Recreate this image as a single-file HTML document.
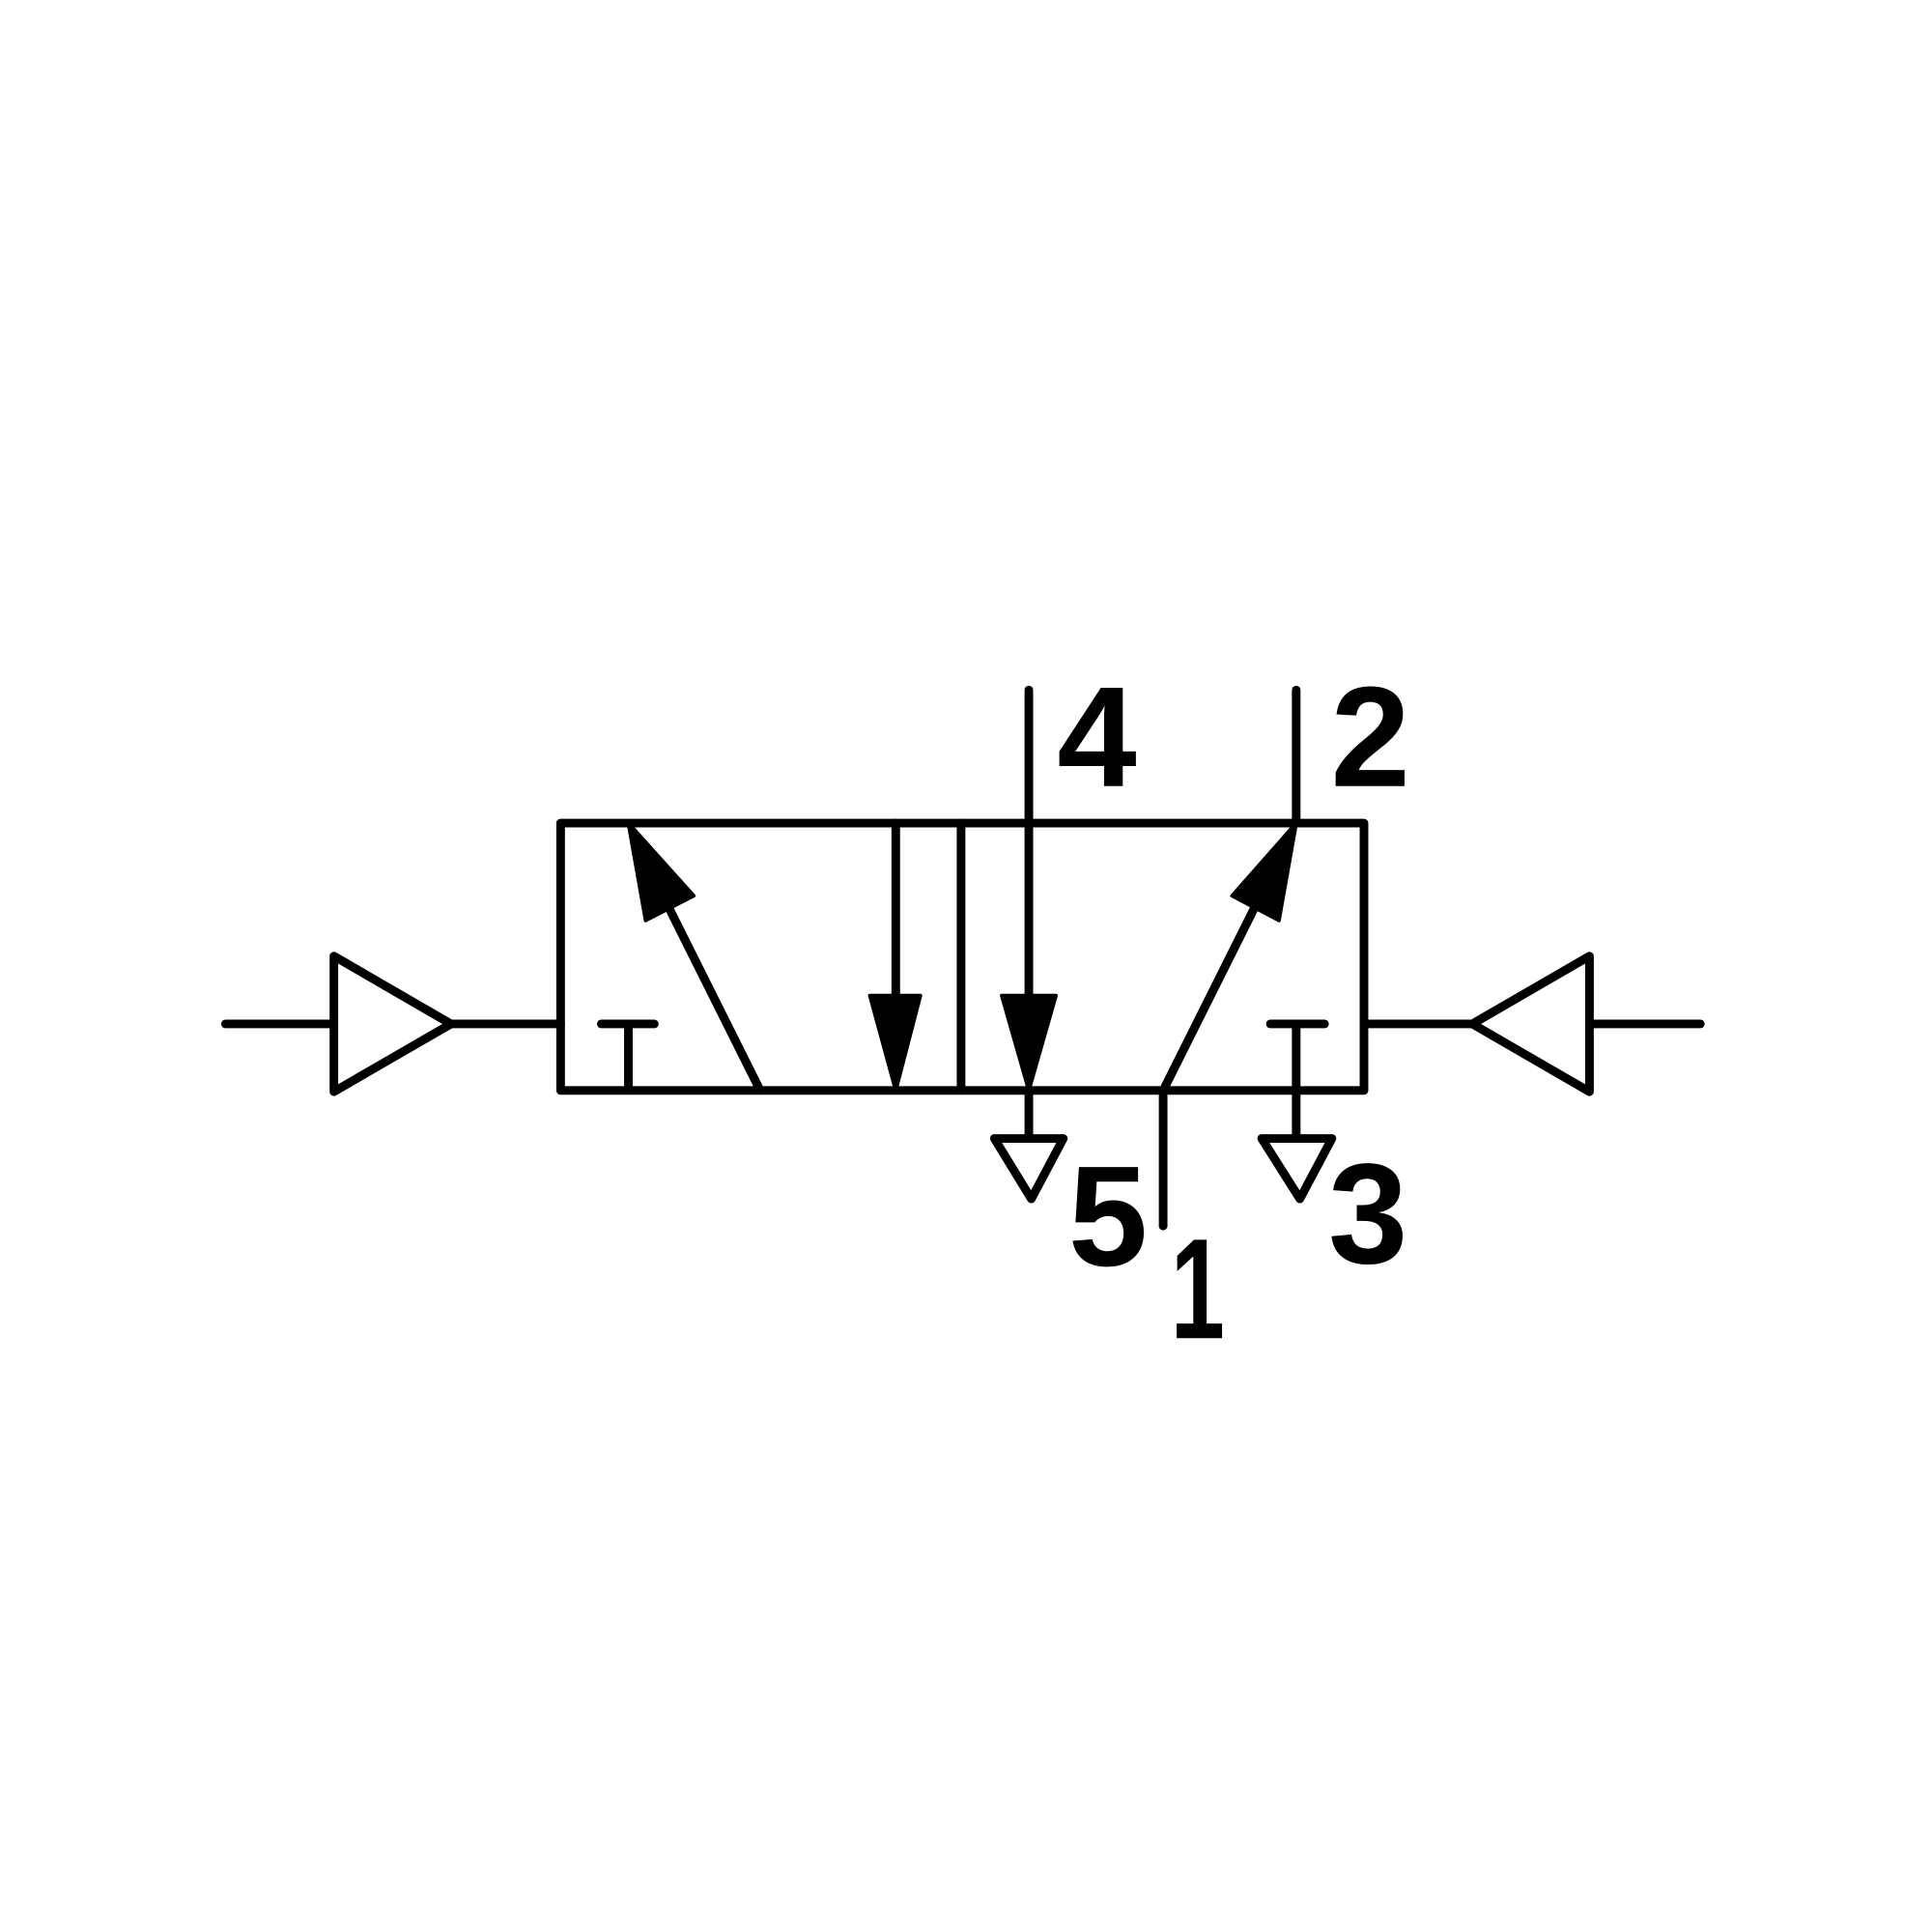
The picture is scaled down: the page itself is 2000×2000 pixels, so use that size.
<!DOCTYPE html>
<html><head><style>html,body{margin:0;padding:0;background:#fff}svg{display:block}</style></head>
<body>
<svg width="2000" height="2000" viewBox="0 0 1568 1568" xmlns="http://www.w3.org/2000/svg">
<g stroke="#000" stroke-width="7" fill="none" stroke-linecap="round" stroke-linejoin="round">
<line x1="183" y1="831" x2="271" y2="831"/>
<polygon points="271,776 271,886 366,831"/>
<line x1="366" y1="831" x2="455" y2="831"/>
<rect x="455" y="668" width="652" height="217"/>
<line x1="1107" y1="831" x2="1195" y2="831"/>
<polygon points="1195,831 1290,776 1290,886"/>
<line x1="1290" y1="831" x2="1380" y2="831"/>
<line x1="488" y1="831" x2="531" y2="831"/>
<line x1="510" y1="831" x2="510" y2="885"/>
<line x1="617" y1="885" x2="540" y2="731"/>
<line x1="727" y1="668" x2="727" y2="810"/>
<line x1="780" y1="668" x2="780" y2="885"/>
<line x1="835" y1="560" x2="835" y2="810"/>
<line x1="835" y1="885" x2="835" y2="922"/>
<polygon points="807,924 863,924 837,973"/>
<line x1="1052" y1="560" x2="1052" y2="668"/>
<line x1="944" y1="885" x2="1021" y2="731"/>
<line x1="944" y1="885" x2="944" y2="995"/>
<line x1="1031" y1="831" x2="1075" y2="831"/>
<line x1="1052" y1="831" x2="1052" y2="922"/>
<polygon points="1024,924 1081,924 1055,973"/>
</g>
<g fill="#000" stroke="#000" stroke-width="3" stroke-linejoin="round">
<polygon points="510,668 524,747 563,727"/>
<polygon points="706,808 747,808 727,885"/>
<polygon points="813,808 857,808 835,885"/>
<polygon points="1052,668 1000,727 1038,747"/>
</g>
<g font-family="Liberation Sans, sans-serif" font-weight="bold" font-size="116" fill="#000">
<text x="858" y="638">4</text>
<text x="1080" y="638">2</text>
<text x="867" y="1027">5</text>
<text x="1078" y="1025">3</text>
<text x="950" y="1086" textLength="44" lengthAdjust="spacingAndGlyphs">1</text>
</g>
</svg>
</body></html>
